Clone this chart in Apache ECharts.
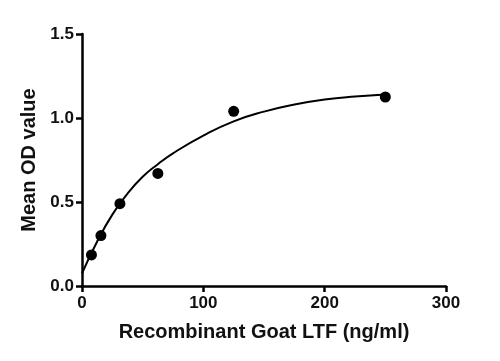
<!DOCTYPE html>
<html>
<head>
<meta charset="utf-8">
<script src="https://cdn.jsdelivr.net/npm/echarts@6/dist/echarts.min.js"></script>
<style>
html,body{margin:0;padding:0;background:#fff;}
#c{width:500px;height:361px;}
</style>
</head>
<body>
<div id="c"></div>
<script>
// Measured standard points
const concentrations = [7.8, 15.6, 31.25, 62.5, 125, 250];
const meanOD = [0.185, 0.30, 0.49, 0.67, 1.04, 1.125];
// Fitted curve
const curveX = [0, 12.5, 25, 37.5, 50, 62.5, 75, 100, 125, 150, 175, 200, 225, 250];
const curveY = [0.075, 0.265, 0.425, 0.55, 0.65, 0.725, 0.79, 0.895, 0.98, 1.038, 1.08, 1.11, 1.128, 1.14];
const xTicks = [0, 100, 200, 300];
const yTicks = [0.0, 0.5, 1.0, 1.5];
const xTitle = 'Recombinant Goat LTF (ng/ml)';
const yTitle = 'Mean OD value';

const chart = echarts.init(document.getElementById('c'), null, {renderer: 'canvas'});
const font = '"Liberation Sans", Arial, sans-serif';
const axisCommon = {
  axisLine: {show: true, onZero: false, lineStyle: {color: '#000', width: 2.5}},
  axisTick: {show: true, inside: false, length: 6, lineStyle: {color: '#000', width: 2.5}},
  splitLine: {show: false},
  nameTextStyle: {fontFamily: font, fontWeight: 'bold', fontSize: 20, color: '#111'}
};
chart.setOption({
  backgroundColor: '#fff',
  animation: false,
  grid: {left: 82, right: 54, top: 34, bottom: 75, containLabel: false},
  xAxis: Object.assign({}, axisCommon, {
    type: 'value', min: xTicks[0], max: xTicks[xTicks.length - 1], interval: 100,
    name: xTitle, nameLocation: 'middle', nameGap: 36,
    axisLabel: {fontFamily: font, fontWeight: 'bold', fontSize: 17, color: '#111', margin: 9,
      formatter: v => String(v)}
  }),
  yAxis: Object.assign({}, axisCommon, {
    type: 'value', min: yTicks[0], max: yTicks[yTicks.length - 1], interval: 0.5,
    name: yTitle, nameLocation: 'middle', nameGap: 42,
    axisLabel: {fontFamily: font, fontWeight: 'bold', fontSize: 17, color: '#111', margin: 8,
      formatter: v => v.toFixed(1)}
  }),
  series: [
    {
      type: 'line',
      data: curveX.map((x, i) => [x, curveY[i]]),
      smooth: 0.5,
      showSymbol: false,
      lineStyle: {color: '#000', width: 2},
      z: 2
    },
    {
      type: 'scatter',
      data: concentrations.map((x, i) => [x, meanOD[i]]),
      symbol: 'circle',
      symbolSize: 11,
      itemStyle: {color: '#000', opacity: 1},
      z: 3
    }
  ]
});
</script>
</body>
</html>
